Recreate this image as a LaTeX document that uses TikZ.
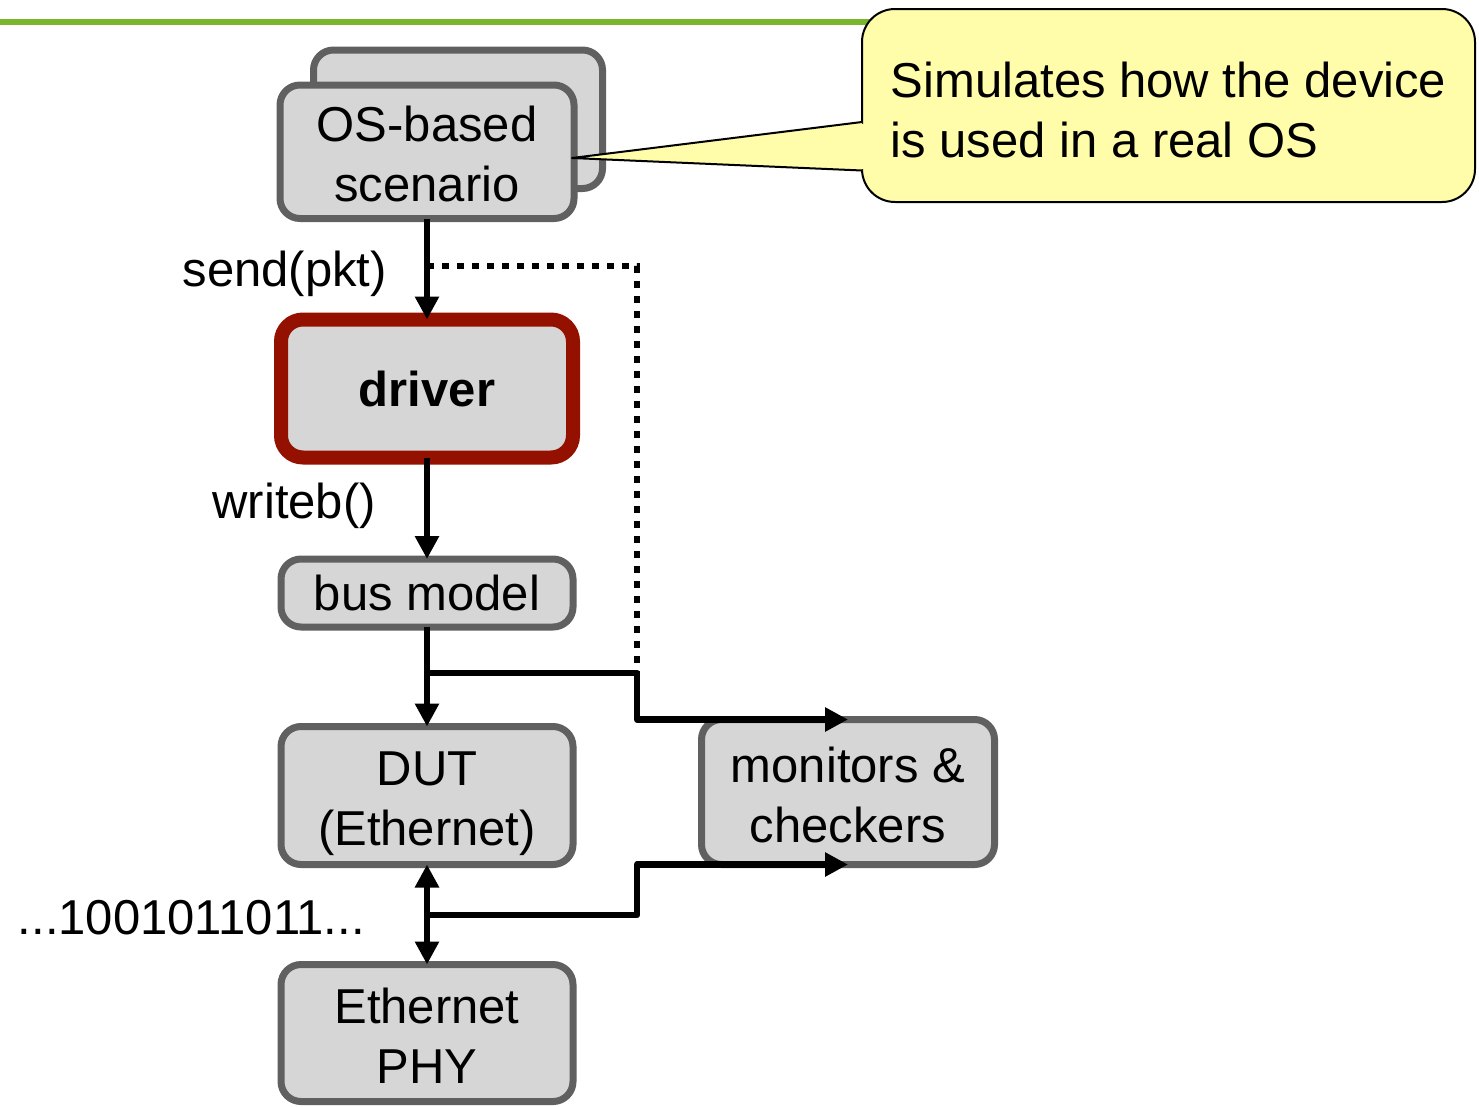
\documentclass[tikz,border=0pt]{standalone}
\usepackage{fontspec}
\setmainfont{Liberation Sans}
\usetikzlibrary{arrows.meta,calc,positioning}

\definecolor{boxgray}{RGB}{214,214,214}
\definecolor{boxedge}{RGB}{96,96,96}
\definecolor{drvred}{RGB}{148,17,0}
\definecolor{notefill}{RGB}{255,253,170}
\definecolor{rulegreen}{RGB}{121,182,44}

\begin{document}
\begin{tikzpicture}[x=1pt, y=-1pt, >={Triangle[length=23pt,width=23pt]},
    font=\fontsize{49}{60}\selectfont,
    box/.style={draw=boxedge, line width=7pt, fill=boxgray, rounded corners=20pt,
      inner sep=0pt, outer sep=0pt, align=center, text depth=0pt,
      minimum width=292pt, minimum height=138pt},
    twoline/.style={text height=100pt},
    drvbox/.style={draw=drvred, line width=14pt, rounded corners=22pt},
    note/.style={draw=black, line width=2pt, fill=notefill, rounded corners=33pt,
      inner sep=0pt, outer sep=0pt, minimum width=613pt, minimum height=193pt,
      align=left, text depth=0pt, text height=103pt},
    wire/.style={line width=6.5pt, line join=round},
    dots/.style={line width=6.5pt, dash pattern=on 6.5pt off 8.5pt},
    lbl/.style={inner sep=0pt}]
  \useasboundingbox (0,0) rectangle (1479,1106);

  % header rule
  \draw[rulegreen, line width=6pt] (0,21.5) -- (900,21.5);

  % stacked scenarios
  \node[box, minimum width=289pt, minimum height=138.5pt] (scenback) at (458,119.25) {};
  \node[box, twoline, minimum width=294pt, minimum height=133.5pt] (scen) at (427,151.75) {OS-based\\scenario};

  % callout
  \node[note] (note) at (1168.5,105.5) {Simulates how the device\\is used in a real OS};
  \coordinate (ptA) at ($(note.west)+(0,16.5)$);
  \coordinate (ptB) at ($(note.west)+(0,65)$);
  \coordinate (tip) at (572,158);
  \fill[notefill] (ptA) -- (tip) -- (ptB) -- cycle;
  \draw[line width=2pt, line join=round] (ptA) -- (tip) -- (ptB);
  \fill[notefill] ($(ptA)+(-1.2,1.5)$) rectangle ($(ptB)+(1.5,-1.5)$);

  % main stack
  \node[box, drvbox] (drv) at (427,388.5) {\bfseries driver};
  \node[box, minimum height=68pt] (bus) at (427,593) {bus model};
  \node[box, twoline] (dut) at (427,795.5) {DUT\\(Ethernet)};
  \node[box, twoline, minimum height=137pt] (phy) at (427,1033) {Ethernet\\PHY};
  \node[box, twoline, minimum width=293pt, minimum height=145pt] (mon) at (848,792) {monitors \&\\checkers};

  \draw[wire,->] (scen.south) -- (drv.north);
  \draw[wire,->] (drv.south) -- (bus.north);
  \draw[wire,->] (bus.south) -- (dut.north);
  \draw[wire,<->] (dut.south) -- (phy.north);

  % taps to the monitors
  \coordinate (jog) at (637,0);
  \coordinate (tapsend) at (427,266);
  \coordinate (tapbus) at (427,673);
  \coordinate (tapphy) at (427,915);
  \draw[dots] (tapsend) -| (tapbus -| jog);
  \draw[wire,->] (tapbus) -- (tapbus -| jog) |- (mon.north);
  \draw[wire,->] (tapphy) -- (tapphy -| jog) |- (mon.south);

  \node[lbl, anchor=base east] (sendlbl) at (387,286) {send(pkt)};
  \node[lbl, anchor=base east] (writelbl) at (376,518) {writeb()};
  \node[lbl, anchor=base east] (bitslbl) at (365,934) {...1001011011...};
\end{tikzpicture}
\end{document}
